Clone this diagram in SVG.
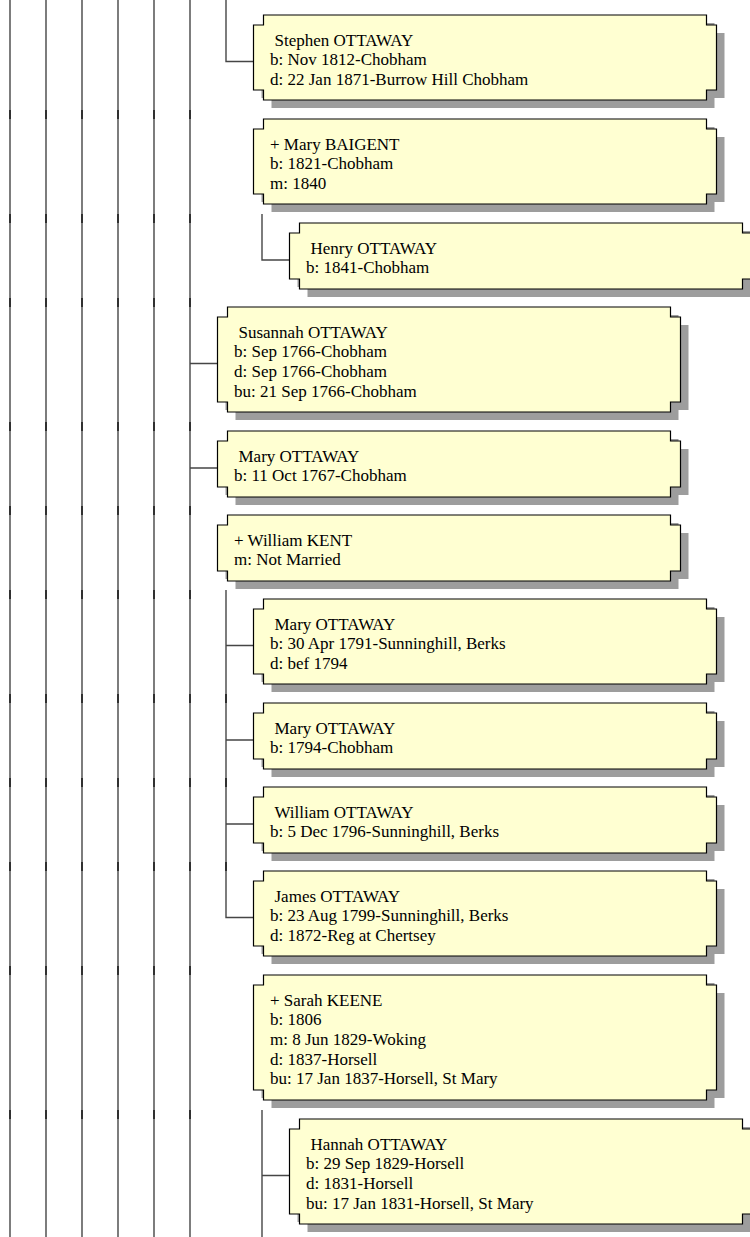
<svg xmlns="http://www.w3.org/2000/svg" xmlns:xlink="http://www.w3.org/1999/xlink" width="750" height="1237" viewBox="0 0 750 1237">
<style>
.bg{fill:#ffffff}
.ln{fill:none;stroke:#464646;stroke-width:1.4}
.tk{fill:none;stroke:#111111;stroke-width:1.4}
.sh{fill:#9d9d9d;stroke:none}
.bx{fill:#FFFFD2;stroke:#000000;stroke-width:1.2}
.t{font-family:"Liberation Serif","Times New Roman",serif;font-size:17px;fill:#000000}
</style>
<defs>
<path id="b66" d="M10,0H453V10H463V56H453V66H10V56H0V10H10Z"/>
<path id="b85" d="M10,0H453V10H463V75H453V85H10V75H0V10H10Z"/>
<path id="b105" d="M10,0H453V10H463V95H453V105H10V95H0V10H10Z"/>
<path id="b125" d="M10,0H453V10H463V115H453V125H10V115H0V10H10Z"/>
<path id="tickrow" d="M10,0V9M46,0V9M82,0V9M118,0V9M154,0V9M190,0V9"/>
</defs>
<rect class="bg" x="0" y="0" width="750" height="1237"/>
<g id="connectors">
<path class="ln" d="M10,0V1237M46,0V1237M82,0V1237M118,0V1237M154,0V1237M190,0V1237"/>
<path class="ln" d="M226,0V61.5H253.5"/>
<path class="ln" d="M262,214V260H289.5"/>
<path class="ln" d="M190,363.5H217.5M190,468H217.5"/>
<path class="ln" d="M226,590V917.5H253.5M226,645.5H253.5M226,740H253.5M226,824H253.5"/>
<path class="ln" d="M262,1110V1237M262,1175.5H289.5"/>
<g class="tk">
<use xlink:href="#tickrow" y="110"/>
<use xlink:href="#tickrow" y="214"/>
<use xlink:href="#tickrow" y="298"/>
<use xlink:href="#tickrow" y="422"/>
<use xlink:href="#tickrow" y="506"/>
<use xlink:href="#tickrow" y="590"/>
<use xlink:href="#tickrow" y="694"/>
<use xlink:href="#tickrow" y="778"/>
<use xlink:href="#tickrow" y="862"/>
<use xlink:href="#tickrow" y="966"/>
<use xlink:href="#tickrow" y="1110"/>
<path d="M226,694V703M226,778V787M226,862V871"/>
</g>
</g>
<g id="n1">
<use xlink:href="#b85" class="sh" x="261.5" y="23"/>
<use xlink:href="#b85" class="bx" x="253.5" y="15"/>
<text class="t"><tspan x="274.5" y="45.5">Stephen OTTAWAY</tspan><tspan x="270" y="65.2">b: Nov 1812-Chobham</tspan><tspan x="270" y="84.9">d: 22 Jan 1871-Burrow Hill Chobham</tspan></text>
</g>
<g id="n2">
<use xlink:href="#b85" class="sh" x="261.5" y="127"/>
<use xlink:href="#b85" class="bx" x="253.5" y="119"/>
<text class="t"><tspan x="270" y="149.5">+ Mary BAIGENT</tspan><tspan x="270" y="169.2">b: 1821-Chobham</tspan><tspan x="270" y="188.9">m: 1840</tspan></text>
</g>
<g id="n3">
<use xlink:href="#b66" class="sh" x="297.5" y="231"/>
<use xlink:href="#b66" class="bx" x="289.5" y="223"/>
<text class="t"><tspan x="310.5" y="253.5">Henry OTTAWAY</tspan><tspan x="306" y="273.2">b: 1841-Chobham</tspan></text>
</g>
<g id="n4">
<use xlink:href="#b105" class="sh" x="225.5" y="315"/>
<use xlink:href="#b105" class="bx" x="217.5" y="307"/>
<text class="t"><tspan x="238.5" y="337.5">Susannah OTTAWAY</tspan><tspan x="234" y="357.2">b: Sep 1766-Chobham</tspan><tspan x="234" y="376.9">d: Sep 1766-Chobham</tspan><tspan x="234" y="396.6">bu: 21 Sep 1766-Chobham</tspan></text>
</g>
<g id="n5">
<use xlink:href="#b66" class="sh" x="225.5" y="439"/>
<use xlink:href="#b66" class="bx" x="217.5" y="431"/>
<text class="t"><tspan x="238.5" y="461.5">Mary OTTAWAY</tspan><tspan x="234" y="481.2">b: 11 Oct 1767-Chobham</tspan></text>
</g>
<g id="n6">
<use xlink:href="#b66" class="sh" x="225.5" y="523"/>
<use xlink:href="#b66" class="bx" x="217.5" y="515"/>
<text class="t"><tspan x="234" y="545.5">+ William KENT</tspan><tspan x="234" y="565.2">m: Not Married</tspan></text>
</g>
<g id="n7">
<use xlink:href="#b85" class="sh" x="261.5" y="607"/>
<use xlink:href="#b85" class="bx" x="253.5" y="599"/>
<text class="t"><tspan x="274.5" y="629.5">Mary OTTAWAY</tspan><tspan x="270" y="649.2">b: 30 Apr 1791-Sunninghill, Berks</tspan><tspan x="270" y="668.9">d: bef 1794</tspan></text>
</g>
<g id="n8">
<use xlink:href="#b66" class="sh" x="261.5" y="711"/>
<use xlink:href="#b66" class="bx" x="253.5" y="703"/>
<text class="t"><tspan x="274.5" y="733.5">Mary OTTAWAY</tspan><tspan x="270" y="753.2">b: 1794-Chobham</tspan></text>
</g>
<g id="n9">
<use xlink:href="#b66" class="sh" x="261.5" y="795"/>
<use xlink:href="#b66" class="bx" x="253.5" y="787"/>
<text class="t"><tspan x="274.5" y="817.5">William OTTAWAY</tspan><tspan x="270" y="837.2">b: 5 Dec 1796-Sunninghill, Berks</tspan></text>
</g>
<g id="n10">
<use xlink:href="#b85" class="sh" x="261.5" y="879"/>
<use xlink:href="#b85" class="bx" x="253.5" y="871"/>
<text class="t"><tspan x="274.5" y="901.5">James OTTAWAY</tspan><tspan x="270" y="921.2">b: 23 Aug 1799-Sunninghill, Berks</tspan><tspan x="270" y="940.9">d: 1872-Reg at Chertsey</tspan></text>
</g>
<g id="n11">
<use xlink:href="#b125" class="sh" x="261.5" y="983"/>
<use xlink:href="#b125" class="bx" x="253.5" y="975"/>
<text class="t"><tspan x="270" y="1005.5">+ Sarah KEENE</tspan><tspan x="270" y="1025.2">b: 1806</tspan><tspan x="270" y="1044.9">m: 8 Jun 1829-Woking</tspan><tspan x="270" y="1064.6">d: 1837-Horsell</tspan><tspan x="270" y="1084.3">bu: 17 Jan 1837-Horsell, St Mary</tspan></text>
</g>
<g id="n12">
<use xlink:href="#b105" class="sh" x="297.5" y="1127"/>
<use xlink:href="#b105" class="bx" x="289.5" y="1119"/>
<text class="t"><tspan x="310.5" y="1149.5">Hannah OTTAWAY</tspan><tspan x="306" y="1169.2">b: 29 Sep 1829-Horsell</tspan><tspan x="306" y="1188.9">d: 1831-Horsell</tspan><tspan x="306" y="1208.6">bu: 17 Jan 1831-Horsell, St Mary</tspan></text>
</g>
</svg>
